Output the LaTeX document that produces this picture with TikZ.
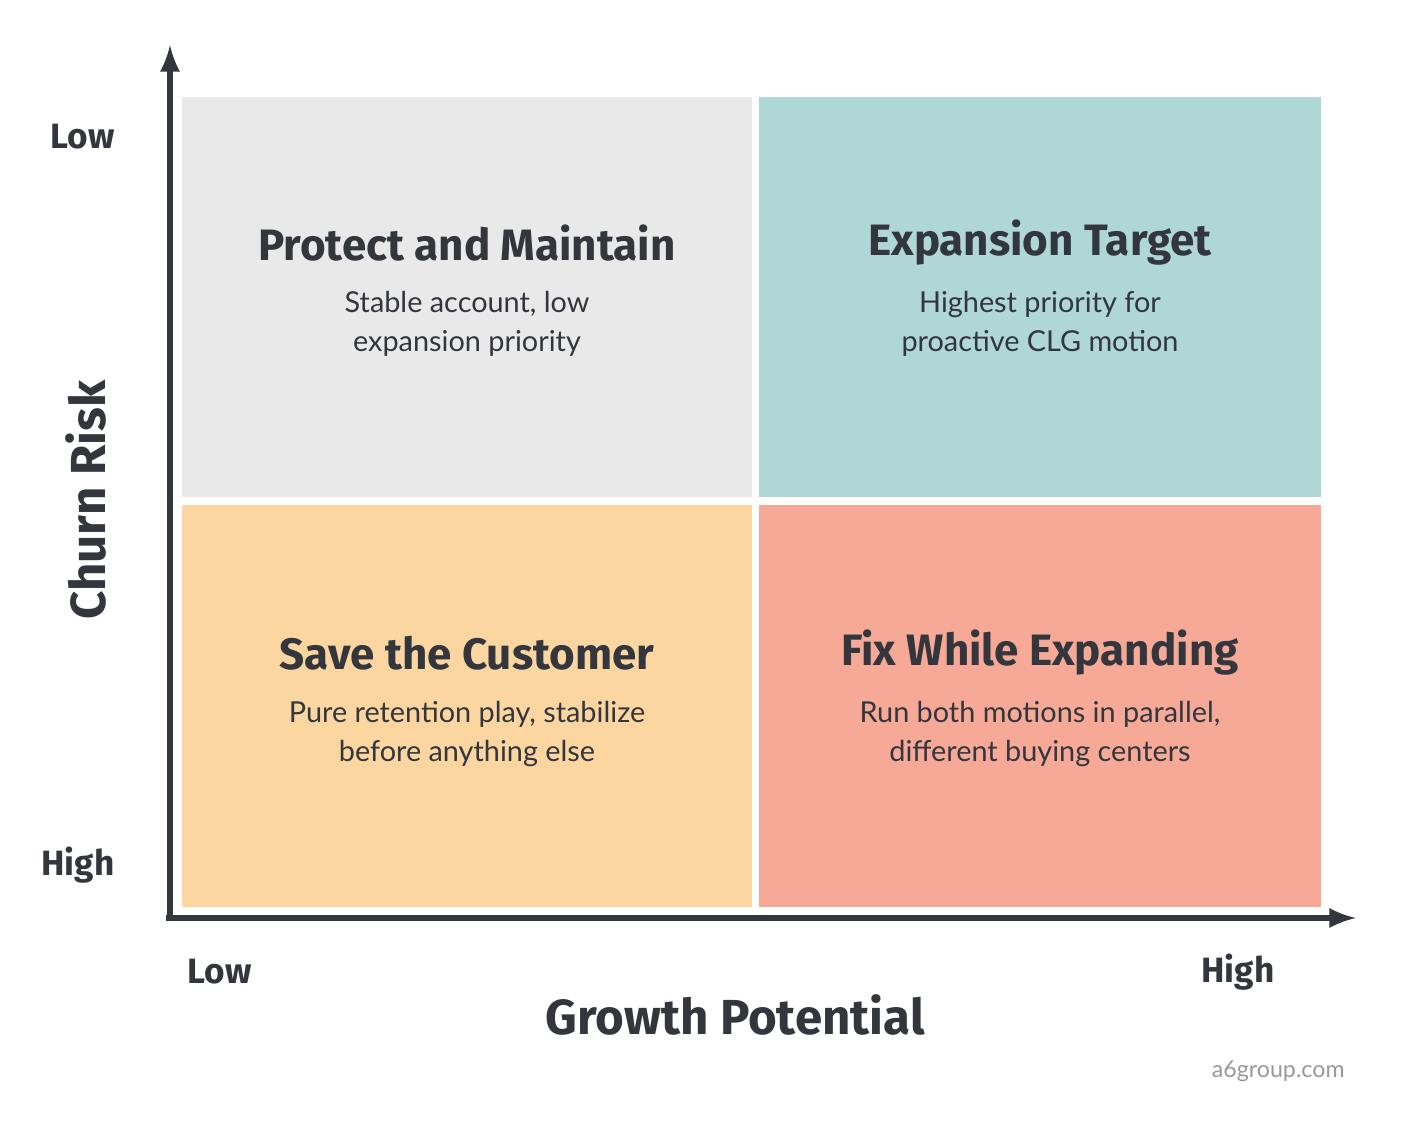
\documentclass[tikz,border=0pt]{standalone}
\usepackage{fontspec}
\setmainfont{Fira Sans}
\newfontfamily\bodyfont{Lato}
\usetikzlibrary{positioning}
\definecolor{ink}{HTML}{33373D}
\definecolor{quadgray}{HTML}{E9E9E9}
\definecolor{quadteal}{HTML}{AED7D6}
\definecolor{quadorange}{HTML}{FBD6A1}
\definecolor{quadsalmon}{HTML}{F5A996}
\tikzset{
  quad/.style={inner sep=0pt,minimum width=5.7cm,minimum height=4.0cm},
  quadtitle/.style={text=ink,font=\fontsize{12.5}{14}\selectfont\bfseries},
  quadtext/.style={text=ink,align=center,font=\bodyfont\fontsize{8.2}{11.2}\selectfont},
  ticklabel/.style={text=ink,font=\fontsize{10}{12}\selectfont\bfseries},
  axislabel/.style={text=ink,font=\fontsize{14}{16}\selectfont\bfseries},
}
\begin{document}
\begin{tikzpicture}[x=0.01cm,y=-0.01cm]
\useasboundingbox (0,0) rectangle (1402,1122);
% quadrants
\node[quad,fill=quadgray,minimum width=5.70cm] (pm) at (467,297) {};
\node[quad,fill=quadteal,minimum width=5.62cm] (et) at (1040,297) {};
\node[quad,fill=quadorange,minimum width=5.70cm,minimum height=4.02cm] (sc) at (467,706) {};
\node[quad,fill=quadsalmon,minimum width=5.62cm,minimum height=4.02cm] (fe) at (1040,706) {};
% texts
\node[quadtitle] (pmt) at (467,243) {Protect and Maintain};
\node[quadtext] at (467,324) {Stable account, low\\expansion priority};
\node[quadtitle] (ett) at (1040,243) {Expansion Target};
\node[quadtext] at (1040,324) {Highest priority for\\proactive CLG motion};
\node[quadtitle] (sct) at (467,653) {Save the Customer};
\node[quadtext] at (467,734) {Pure retention play, stabilize\\before anything else};
\node[quadtitle] (fet) at (1040,653) {Fix While Expanding};
\node[quadtext] at (1040,734) {Run both motions in parallel,\\different buying centers};
% axes
\coordinate (origin) at (170,918);
\coordinate (ytop) at (170,45);
\coordinate (xend) at (1356,918);
\draw[ink,line width=1.6pt,-latex] (origin) -- (ytop);
\draw[ink,line width=1.6pt,-latex] ([xshift=-0.04cm]origin) -- (xend);
\node[ticklabel,anchor=east] (ylow) at (127,137) {Low};
\node[ticklabel,anchor=east] (yhigh) at (127,865) {High};
\node[ticklabel,anchor=west] (xlow) at (175,972) {Low};
\node[ticklabel,anchor=east] (xhigh) at (1287,972) {High};
\node[axislabel,rotate=90] (ylab) at (86,500) {Churn Risk};
\node[axislabel] (xlab) at (735,1015) {Growth Potential};
\node[text=gray!80,font=\bodyfont\fontsize{6.6}{8}\selectfont,anchor=east] (src) at (1357,1071) {a6group.com};
\end{tikzpicture}
\end{document}
